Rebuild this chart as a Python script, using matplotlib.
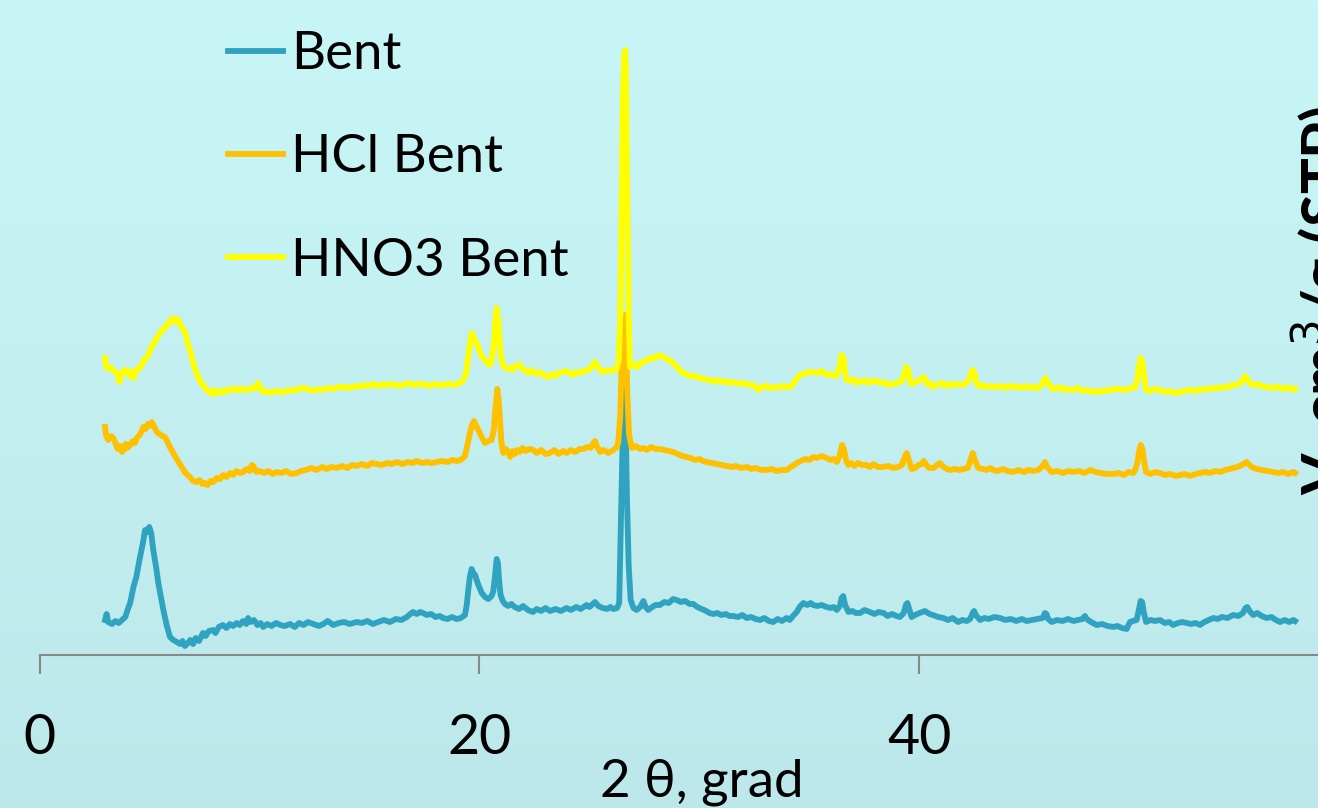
import numpy as np
import matplotlib
matplotlib.use("Agg")
import matplotlib.pyplot as plt

plt.rcParams["font.family"] = ["Lato", "DejaVu Sans"]

# 2theta (deg) and intensity (arb. units)
bent_x = [2.98, 3.05, 3.12, 3.3, 3.45, 3.6, 3.75, 3.9, 4.0, 4.12, 4.27, 4.4, 4.57, 4.7, 4.8, 4.9, 4.99, 5.08, 5.17, 5.3,
          5.4, 5.52, 5.63, 5.78, 5.93, 6.08, 6.24, 6.4, 6.5, 6.61, 6.75, 6.85, 6.98, 7.1, 7.25, 7.43, 7.55, 7.7, 7.89, 8.0,
          8.15, 8.34, 8.5, 8.65, 8.8, 8.96, 9.1, 9.25, 9.4, 9.48, 9.6, 9.75, 9.9, 10.05, 10.17, 10.35, 10.55, 10.75, 10.95, 11.15,
          11.39, 11.6, 11.8, 12.0, 12.2, 12.45, 12.7, 12.9, 13.1, 13.35, 13.6, 13.85, 14.1, 14.42, 14.65, 14.9, 15.15, 15.4, 15.65, 15.93,
          16.2, 16.45, 16.7, 16.85, 16.98, 17.15, 17.3, 17.43, 17.6, 17.8, 18.0, 18.2, 18.34, 18.55, 18.75, 18.96, 19.15, 19.34, 19.42, 19.49,
          19.56, 19.64, 19.72, 19.8, 19.87, 19.95, 20.1, 20.25, 20.4, 20.55, 20.63, 20.7, 20.78, 20.84, 20.9, 20.96, 21.06, 21.16, 21.3, 21.45,
          21.6, 21.8, 21.98, 22.2, 22.43, 22.6, 22.8, 23.0, 23.2, 23.45, 23.7, 23.96, 24.15, 24.4, 24.6, 24.87, 25.0, 25.25, 25.4, 25.6,
          25.8, 25.95, 26.08, 26.25, 26.35, 26.46, 26.52, 26.58, 26.64, 26.7, 26.78, 26.87, 27.0, 27.14, 27.3, 27.45, 27.55, 27.67, 27.85, 28.0,
          28.2, 28.4, 28.6, 28.8, 28.96, 29.15, 29.35, 29.55, 29.72, 29.9, 30.1, 30.3, 30.45, 30.63, 30.8, 31.0, 31.2, 31.35, 31.54, 31.75,
          31.95, 32.15, 32.35, 32.55, 32.75, 32.95, 33.15, 33.35, 33.55, 33.75, 33.96, 34.1, 34.25, 34.42, 34.55, 34.72, 34.9, 35.05, 35.17, 35.35,
          35.55, 35.78, 35.95, 36.1, 36.24, 36.38, 36.46, 36.53, 36.62, 36.77, 36.95, 37.1, 37.3, 37.5, 37.75, 37.95, 38.15, 38.36, 38.55, 38.75,
          38.95, 39.11, 39.28, 39.38, 39.45, 39.53, 39.64, 39.8, 40.0, 40.25, 40.45, 40.61, 40.85, 41.08, 41.3, 41.5, 41.76, 41.95, 42.15, 42.3,
          42.42, 42.48, 42.56, 42.75, 42.95, 43.15, 43.4, 43.66, 43.9, 44.15, 44.4, 44.65, 44.87, 45.1, 45.35, 45.6, 45.7, 45.77, 45.85, 46.01,
          46.25, 46.5, 46.75, 47.0, 47.2, 47.4, 47.52, 47.6, 47.8, 48.05, 48.3, 48.55, 48.81, 49.0, 49.2, 49.42, 49.5, 49.57, 49.7, 49.87,
          49.97, 50.05, 50.12, 50.2, 50.3, 50.5, 50.7, 50.93, 51.15, 51.35, 51.53, 51.75, 51.95, 52.14, 52.35, 52.55, 52.75, 52.95, 53.15, 53.35,
          53.55, 53.75, 54.0, 54.26, 54.5, 54.7, 54.82, 54.9, 55.0, 55.17, 55.35, 55.55, 55.78, 56.0, 56.2, 56.39, 56.6, 56.8, 57.0, 57.07]
bent_y = [35, 41, 33, 31, 34, 32, 35, 38, 45, 52, 68, 78, 98, 112, 125, 123, 128, 122, 105, 88,
          72, 58, 45, 30, 18, 15, 13, 11, 14, 9, 12, 15, 11, 17, 14, 22, 19, 24, 25, 22,
          28, 30, 27, 31, 29, 32, 30, 34, 31, 37, 33, 35, 30, 32, 28, 31, 29, 32, 30, 29,
          31, 28, 32, 30, 33, 31, 29, 31, 34, 30, 32, 33, 31, 33, 32, 34, 31, 33, 35, 33,
          36, 35, 38, 41, 43, 41, 43, 42, 40, 41, 38, 39, 37, 36, 38, 36, 37, 40, 50, 65,
          78, 86, 82, 80, 75, 70, 62, 58, 56, 59, 64, 78, 96, 92, 72, 60, 54, 51, 49, 51,
          48, 46, 49, 45, 43, 46, 44, 47, 44, 46, 44, 47, 45, 48, 46, 50, 48, 53, 49, 47,
          46, 48, 46, 47, 52, 165, 230, 265, 240, 160, 90, 55, 47, 45, 48, 54, 48, 45, 48, 50,
          50, 53, 52, 56, 55, 53, 54, 51, 51, 48, 46, 44, 42, 41, 42, 40, 41, 39, 39, 38,
          40, 37, 38, 36, 35, 37, 34, 33, 36, 34, 37, 35, 39, 43, 48, 52, 50, 52, 50, 49,
          50, 48, 47, 48, 45, 49, 57, 59, 50, 43, 44, 42, 42, 45, 43, 41, 43, 42, 39, 41,
          39, 38, 42, 50, 52, 46, 38, 40, 42, 44, 41, 40, 38, 37, 35, 37, 33, 35, 34, 36,
          42, 44, 40, 35, 37, 36, 38, 37, 35, 36, 34, 36, 34, 35, 36, 37, 42, 41, 36, 33,
          35, 34, 36, 34, 35, 36, 39, 36, 33, 30, 31, 29, 28, 29, 27, 26, 30, 33, 34, 35,
          45, 54, 53, 42, 33, 35, 34, 35, 32, 33, 30, 32, 33, 32, 31, 32, 30, 33, 35, 37,
          36, 38, 37, 40, 39, 42, 47, 48, 44, 40, 42, 39, 37, 38, 35, 33, 35, 33, 35, 34]

hcl_x = [2.98, 3.02, 3.12, 3.25, 3.35, 3.45, 3.55, 3.65, 3.75, 3.81, 3.92, 4.0, 4.11, 4.25, 4.35, 4.42, 4.55, 4.65, 4.72, 4.82,
         4.92, 5.0, 5.1, 5.2, 5.33, 5.45, 5.58, 5.7, 5.82, 5.95, 6.08, 6.2, 6.32, 6.46, 6.6, 6.72, 6.84, 6.98, 7.14, 7.28,
         7.4, 7.52, 7.64, 7.78, 7.9, 8.05, 8.2, 8.35, 8.5, 8.66, 8.8, 8.95, 9.1, 9.26, 9.4, 9.55, 9.65, 9.72, 9.8, 9.87,
         10.0, 10.2, 10.4, 10.6, 10.78, 11.0, 11.2, 11.45, 11.69, 11.9, 12.1, 12.35, 12.6, 12.85, 13.05, 13.25, 13.51, 13.75, 14.0, 14.2,
         14.42, 14.65, 14.9, 15.1, 15.33, 15.55, 15.8, 16.0, 16.24, 16.5, 16.75, 16.95, 17.14, 17.4, 17.6, 17.85, 18.05, 18.3, 18.55, 18.75,
         18.96, 19.15, 19.34, 19.45, 19.57, 19.66, 19.75, 19.85, 19.95, 20.1, 20.25, 20.4, 20.55, 20.65, 20.72, 20.81, 20.87, 20.93, 21.0, 21.08,
         21.2, 21.3, 21.39, 21.5, 21.6, 21.72, 21.84, 21.95, 22.1, 22.25, 22.44, 22.6, 22.8, 23.0, 23.2, 23.4, 23.6, 23.8, 23.96, 24.15,
         24.35, 24.55, 24.72, 24.9, 25.05, 25.18, 25.25, 25.33, 25.48, 25.65, 25.85, 26.08, 26.25, 26.31, 26.4, 26.47, 26.53, 26.6, 26.66, 26.72,
         26.8, 26.92, 27.1, 27.3, 27.45, 27.6, 27.8, 28.0, 28.2, 28.4, 28.6, 28.81, 29.0, 29.2, 29.42, 29.6, 29.8, 30.0, 30.15, 30.33,
         30.55, 30.75, 31.0, 31.24, 31.45, 31.65, 31.9, 32.15, 32.35, 32.55, 32.8, 33.05, 33.3, 33.5, 33.75, 33.96, 34.15, 34.3, 34.42, 34.6,
         34.8, 35.0, 35.17, 35.35, 35.55, 35.78, 35.95, 36.1, 36.24, 36.38, 36.48, 36.56, 36.66, 36.77, 36.9, 37.05, 37.2, 37.4, 37.6, 37.75,
         37.9, 38.1, 38.36, 38.6, 38.8, 39.05, 39.2, 39.33, 39.42, 39.5, 39.64, 39.8, 39.95, 40.1, 40.2, 40.3, 40.45, 40.63, 40.8, 40.93,
         41.1, 41.25, 41.39, 41.6, 41.8, 41.99, 42.2, 42.32, 42.42, 42.5, 42.67, 42.85, 43.05, 43.2, 43.35, 43.55, 43.8, 44.0, 44.26, 44.5,
         44.75, 44.95, 45.17, 45.4, 45.6, 45.7, 45.8, 46.01, 46.25, 46.5, 46.75, 47.0, 47.25, 47.5, 47.76, 48.0, 48.25, 48.5, 48.81, 49.05,
         49.3, 49.5, 49.72, 49.82, 49.9, 49.98, 50.06, 50.14, 50.22, 50.3, 50.5, 50.7, 50.93, 51.15, 51.4, 51.65, 51.84, 52.05, 52.3, 52.55,
         52.75, 53.0, 53.2, 53.45, 53.66, 53.9, 54.1, 54.26, 54.45, 54.65, 54.8, 54.87, 54.95, 55.1, 55.33, 55.55, 55.8, 56.08, 56.3, 56.5,
         56.75, 57.0, 57.07]
hcl_y = [228, 220, 215, 219, 217, 212, 206, 209, 203, 205, 211, 207, 210, 214, 212, 217, 220, 224, 228, 226,
         231, 229, 233, 229, 223, 221, 219, 218, 213, 207, 202, 197, 193, 188, 183, 180, 178, 174, 173, 175,
         171, 172, 170, 174, 173, 177, 176, 180, 178, 182, 180, 184, 182, 183, 186, 184, 190, 189, 185, 183,
         184, 182, 184, 181, 183, 182, 184, 181, 182, 184, 185, 187, 185, 188, 186, 188, 187, 189, 187, 190,
         189, 191, 189, 192, 191, 190, 192, 191, 193, 191, 193, 192, 194, 192, 193, 192, 193, 194, 193, 195,
         194, 195, 199, 210, 222, 230, 234, 229, 225, 218, 212, 214, 215, 225, 245, 266, 255, 235, 212, 202,
         206, 203, 198, 204, 201, 205, 203, 207, 204, 206, 205, 202, 205, 201, 202, 205, 201, 204, 202, 205,
         203, 206, 206, 208, 207, 212, 214, 209, 203, 205, 202, 205, 208, 213, 240, 300, 335, 340, 320, 260,
         220, 207, 209, 206, 207, 205, 208, 206, 206, 205, 204, 203, 201, 199, 198, 197, 195, 196, 194, 193,
         192, 191, 190, 189, 188, 189, 187, 188, 186, 187, 185, 185, 186, 184, 185, 185, 188, 190, 192, 194,
         196, 195, 198, 197, 199, 197, 195, 196, 193, 200, 210, 206, 195, 190, 192, 189, 192, 190, 190, 188,
         191, 188, 188, 189, 187, 188, 190, 198, 202, 196, 186, 187, 190, 191, 194, 190, 187, 187, 190, 192,
         188, 186, 185, 186, 185, 186, 187, 195, 202, 196, 187, 186, 185, 187, 185, 184, 186, 184, 183, 185,
         183, 185, 184, 185, 189, 193, 188, 183, 184, 182, 184, 183, 184, 182, 185, 183, 182, 181, 181, 182,
         180, 183, 182, 186, 192, 203, 210, 205, 192, 183, 181, 183, 182, 180, 181, 179, 180, 181, 179, 181,
         182, 183, 182, 184, 183, 185, 186, 187, 188, 190, 192, 193, 191, 188, 186, 185, 184, 183, 182, 183,
         181, 183, 182]

hno3_x = [2.98, 3.02, 3.12, 3.22, 3.35, 3.45, 3.55, 3.63, 3.72, 3.8, 3.89, 4.0, 4.1, 4.18, 4.27, 4.36, 4.45, 4.57, 4.66, 4.75,
          4.85, 4.95, 5.05, 5.15, 5.25, 5.33, 5.45, 5.58, 5.7, 5.82, 5.95, 6.02, 6.08, 6.15, 6.22, 6.31, 6.4, 6.5, 6.61, 6.72,
          6.84, 6.95, 7.05, 7.14, 7.25, 7.35, 7.45, 7.55, 7.65, 7.75, 7.85, 7.95, 8.05, 8.2, 8.35, 8.5, 8.65, 8.81, 8.95, 9.1,
          9.25, 9.42, 9.6, 9.75, 9.88, 9.95, 10.05, 10.17, 10.35, 10.5, 10.7, 10.9, 11.08, 11.3, 11.5, 11.75, 11.99, 12.2, 12.45, 12.7,
          12.9, 13.1, 13.35, 13.6, 13.81, 14.05, 14.3, 14.5, 14.72, 14.95, 15.2, 15.4, 15.63, 15.85, 16.1, 16.3, 16.54, 16.8, 17.0, 17.25,
          17.45, 17.7, 17.95, 18.15, 18.35, 18.6, 18.85, 19.11, 19.3, 19.39, 19.48, 19.57, 19.64, 19.72, 19.8, 19.87, 19.98, 20.1, 20.2, 20.35,
          20.48, 20.58, 20.66, 20.72, 20.78, 20.85, 20.93, 21.0, 21.08, 21.2, 21.3, 21.39, 21.5, 21.6, 21.72, 21.84, 21.95, 22.1, 22.22, 22.35,
          22.44, 22.6, 22.75, 22.9, 23.0, 23.12, 23.3, 23.45, 23.6, 23.8, 23.96, 24.1, 24.25, 24.4, 24.57, 24.75, 24.9, 25.05, 25.15, 25.25,
          25.35, 25.48, 25.63, 25.8, 25.95, 26.1, 26.24, 26.33, 26.4, 26.46, 26.52, 26.58, 26.62, 26.66, 26.72, 26.78, 26.84, 26.95, 27.1, 27.2,
          27.3, 27.45, 27.6, 27.75, 27.9, 28.05, 28.17, 28.3, 28.45, 28.6, 28.74, 28.9, 29.05, 29.19, 29.35, 29.5, 29.7, 29.85, 30.02, 30.2,
          30.4, 30.6, 30.75, 30.93, 31.15, 31.35, 31.6, 31.84, 32.05, 32.25, 32.45, 32.55, 32.67, 32.8, 33.0, 33.15, 33.35, 33.55, 33.75, 33.95,
          34.11, 34.25, 34.4, 34.57, 34.75, 34.95, 35.17, 35.35, 35.55, 35.78, 35.95, 36.1, 36.24, 36.35, 36.46, 36.55, 36.62, 36.69, 36.85, 37.0,
          37.15, 37.3, 37.5, 37.65, 37.85, 38.05, 38.2, 38.4, 38.6, 38.81, 39.0, 39.2, 39.32, 39.39, 39.47, 39.56, 39.64, 39.72, 39.85, 40.0,
          40.12, 40.2, 40.28, 40.4, 40.5, 40.63, 40.8, 41.0, 41.2, 41.35, 41.54, 41.75, 41.95, 42.14, 42.28, 42.4, 42.48, 42.57, 42.67, 42.85,
          43.0, 43.2, 43.48, 43.7, 43.95, 44.15, 44.39, 44.6, 44.8, 45.0, 45.2, 45.39, 45.55, 45.66, 45.74, 45.83, 46.01, 46.2, 46.4, 46.6,
          46.8, 47.0, 47.2, 47.4, 47.6, 47.8, 48.0, 48.2, 48.4, 48.6, 48.85, 49.11, 49.3, 49.5, 49.65, 49.8, 49.9, 49.97, 50.05, 50.12,
          50.2, 50.3, 50.5, 50.7, 50.93, 51.15, 51.4, 51.6, 51.84, 52.05, 52.3, 52.55, 52.75, 52.95, 53.2, 53.45, 53.66, 53.9, 54.1, 54.26,
          54.42, 54.6, 54.72, 54.8, 54.88, 55.0, 55.17, 55.35, 55.55, 55.8, 56.08, 56.3, 56.5, 56.75, 56.95, 57.07]
hno3_y = [297, 289, 286, 288, 285, 283, 280, 273, 281, 284, 285, 282, 279, 284, 277, 283, 286, 287, 291, 295,
          297, 300, 306, 310, 314, 317, 321, 325, 327, 331, 334, 336, 337, 333, 336, 335, 330, 327, 323, 313,
          305, 295, 287, 282, 276, 272, 270, 266, 264, 263, 261, 265, 262, 262, 265, 263, 266, 266, 264, 267,
          265, 265, 267, 266, 270, 272, 266, 263, 264, 262, 264, 263, 263, 265, 264, 266, 267, 266, 264, 266,
          265, 267, 266, 268, 268, 267, 269, 268, 270, 269, 271, 269, 271, 270, 271, 269, 270, 272, 270, 271,
          271, 269, 271, 270, 270, 271, 270, 272, 276, 282, 298, 312, 322, 318, 315, 312, 305, 299, 296, 292,
          290, 298, 315, 335, 347, 335, 308, 295, 290, 287, 286, 287, 285, 288, 290, 290, 286, 284, 282, 285,
          283, 281, 283, 280, 279, 278, 281, 279, 282, 283, 284, 282, 280, 283, 282, 284, 285, 287, 290, 293,
          289, 285, 283, 285, 284, 285, 286, 295, 340, 440, 560, 600, 605, 570, 450, 340, 288, 289, 290, 288,
          292, 293, 295, 297, 296, 299, 300, 298, 297, 295, 293, 290, 286, 283, 281, 280, 278, 279, 277, 276,
          275, 274, 275, 273, 274, 272, 273, 271, 272, 270, 270, 268, 265, 268, 269, 267, 268, 267, 269, 268,
          268, 271, 276, 280, 281, 283, 283, 282, 284, 280, 281, 279, 280, 287, 300, 297, 282, 275, 274, 276,
          272, 273, 275, 272, 274, 274, 272, 273, 270, 271, 272, 274, 282, 288, 286, 276, 271, 272, 273, 275,
          277, 278, 274, 270, 272, 268, 270, 272, 269, 271, 270, 271, 270, 272, 277, 285, 283, 274, 269, 270,
          268, 269, 268, 269, 267, 269, 268, 267, 269, 267, 268, 267, 270, 275, 277, 272, 267, 266, 268, 265,
          266, 265, 267, 264, 265, 263, 264, 263, 265, 264, 266, 266, 265, 266, 267, 268, 275, 288, 297, 294,
          280, 265, 264, 266, 265, 263, 264, 262, 263, 264, 265, 264, 266, 265, 267, 266, 268, 267, 269, 270,
          270, 272, 276, 279, 276, 272, 270, 271, 269, 268, 267, 268, 266, 268, 265, 266]

series_labels = ["Bent", "HCl Bent", "HNO3 Bent"]
series_colors = ["#2fa3bf", "#ffc000", "#ffff00"]
x_ticks = [0, 20, 40]

W, H = 1318, 808
fig = plt.figure(figsize=(W / 100, H / 100), dpi=100)

# soft cyan gradient behind everything
bg = fig.add_axes([0, 0, 1, 1], zorder=-5)
top = np.array([200, 246, 246]) / 255
bot = np.array([189, 232, 235]) / 255
t = np.linspace(0, 1, 256)[:, None, None]
grad = top * (1 - t) + bot * t
grad = np.repeat(grad, 4, axis=1)
bg.imshow(grad, aspect="auto", extent=[0, 1, 0, 1])
bg.axis("off")

x0 = 39.5
ax = fig.add_axes([x0 / W, 153 / H, 1 - x0 / W, 655 / H])
ax.patch.set_alpha(0)

for xs, ys, lab, col in zip([bent_x, hcl_x, hno3_x], [bent_y, hcl_y, hno3_y], series_labels, series_colors):
    ax.plot(xs, ys, color=col, lw=4.2, label=lab, solid_joinstyle="round")

ax.set_xlim(0, (W - x0) / 22)
ax.set_ylim(0, 655)

for s in ["left", "top", "right"]:
    ax.spines[s].set_visible(False)
ax.spines["bottom"].set_color("#888888")
ax.spines["bottom"].set_linewidth(1.5)
ax.set_yticks([])
ax.set_xticks(x_ticks)
ax.tick_params(axis="x", direction="out", length=14, width=1.5, color="#888888",
               labelsize=40, pad=28)

xl = ax.set_xlabel("2 θ, grad", fontsize=38)
ax.xaxis.set_label_coords((702 - x0) / (W - x0), -(797 - 655) / 655)
xl.set_va("baseline")

# leftover y title of the template, mostly outside the canvas on the right
ax.yaxis.set_label_position("right")
yl = ax.set_ylabel("V, cm$^3$/g (STP)", fontsize=43, fontweight="bold", rotation=90)
ax.yaxis.set_label_coords((1346 - x0) / (W - x0), (655 - 300) / 655)
yl.set_ha("center")
yl.set_va("baseline")

ax.legend(loc="upper left", bbox_to_anchor=(228 / W, 1 - 31 / H), bbox_transform=fig.transFigure,
          frameon=False, fontsize=38, handlelength=1.05, handletextpad=0.15,
          labelspacing=1.07, borderpad=0, borderaxespad=0)

fig.savefig("out.png", dpi=100)
